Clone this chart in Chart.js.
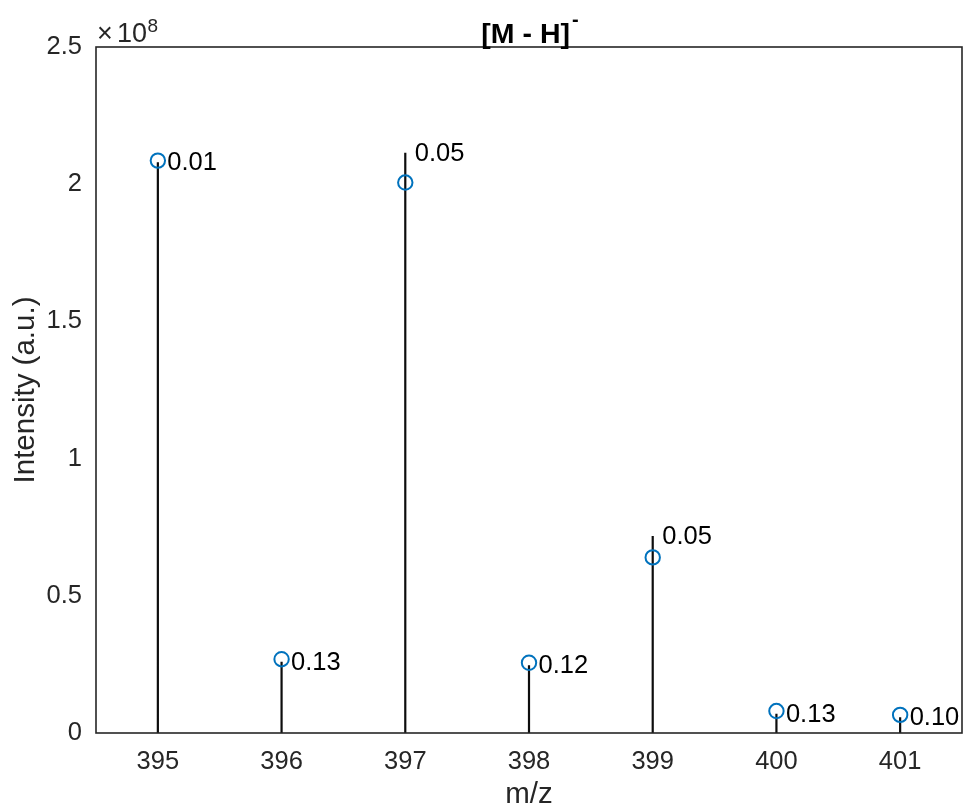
<!DOCTYPE html>
<html>
<head>
<meta charset="utf-8">
<script src="https://cdn.jsdelivr.net/npm/chart.js@4.4.1/dist/chart.umd.min.js"></script>
<style>
  html, body { margin: 0; padding: 0; background: #fff; }
  canvas { display: block; }
</style>
</head>
<body>
<canvas id="spec" width="963" height="807"></canvas>
<script>
// Isotope peaks of the deprotonated ion
const mz = [395, 396, 397, 398, 399, 400, 401];
// measured intensities (stems)
const measured = [2.08e8, 0.26e8, 2.115e8, 0.247e8, 0.718e8, 0.070e8, 0.057e8];
// predicted isotope pattern (open circles)
const predicted = [2.086e8, 0.269e8, 2.006e8, 0.256e8, 0.640e8, 0.080e8, 0.066e8];
// per-peak annotation text
const peakLabels = ['0.01', '0.13', '0.05', '0.12', '0.05', '0.13', '0.10'];
// y tick values (in counts) and the axis range
const yTickValues = [0, 0.5e8, 1e8, 1.5e8, 2e8, 2.5e8];
const xRange = [394.5, 401.5];
const yRange = [0, 2.5e8];

const FONT = '"Liberation Sans", Arial, Helvetica, sans-serif';
const AXIS_COLOR = '#262626';

// stems: one vertical segment per peak, separated by gaps
const stemPoints = mz.flatMap((m, i) => [
  { x: m, y: 0 },
  { x: m, y: measured[i] },
  { x: m, y: null }
]);
const circlePoints = mz.map((m, i) => ({ x: m, y: predicted[i] }));

const boxPlugin = {
  id: 'box',
  afterDatasetsDraw(chart) {
    const { ctx, chartArea: a } = chart;
    ctx.save();
    ctx.strokeStyle = AXIS_COLOR;
    ctx.lineWidth = 1.6;
    ctx.strokeRect(a.left, a.top, a.right - a.left, a.bottom - a.top);
    ctx.restore();
  }
};

const peakLabelPlugin = {
  id: 'peakLabels',
  afterDatasetsDraw(chart) {
    const { ctx, scales: { x, y } } = chart;
    ctx.save();
    ctx.fillStyle = '#000';
    ctx.font = '25.5px ' + FONT;
    ctx.textAlign = 'left';
    ctx.textBaseline = 'middle';
    mz.forEach((m, i) => {
      ctx.fillText(peakLabels[i], x.getPixelForValue(m) + 9.5, y.getPixelForValue(measured[i]) + 1);
    });
    ctx.restore();
  }
};

const headerPlugin = {
  id: 'header',
  afterDraw(chart) {
    const { ctx, chartArea: a } = chart;
    ctx.save();
    // title with superscript charge
    const main = '[M - H]';
    ctx.font = 'bold 28.5px ' + FONT;
    const w = ctx.measureText(main).width;
    ctx.font = 'bold 20px ' + FONT;
    const wSup = ctx.measureText('-').width;
    const cx = (a.left + a.right) / 2;
    const x0 = cx - (w + wSup) / 2;
    ctx.fillStyle = '#000';
    ctx.textBaseline = 'alphabetic';
    ctx.textAlign = 'left';
    ctx.font = 'bold 28.5px ' + FONT;
    ctx.fillText(main, x0, 43);
    ctx.font = 'bold 20px ' + FONT;
    ctx.fillText('-', x0 + w + 2, 26);

    // exponent of the y axis
    ctx.fillStyle = AXIS_COLOR;
    ctx.font = '27px ' + FONT;
    ctx.fillText('\u00d7', a.left + 1, 42);
    ctx.fillText('10', a.left + 21, 42);
    const w10 = ctx.measureText('10').width;
    ctx.font = '19px ' + FONT;
    ctx.fillText('8', a.left + 21 + w10 + 0.5, 32);
    ctx.restore();
  }
};

new Chart(document.getElementById('spec'), {
  type: 'scatter',
  data: {
    datasets: [
      {
        label: 'predicted',
        data: circlePoints,
        showLine: false,
        pointStyle: 'circle',
        pointRadius: 7.2,
        pointHoverRadius: 7.2,
        pointBorderWidth: 2,
        borderColor: '#0072BD',
        backgroundColor: 'rgba(0,0,0,0)',
        clip: false
      },
      {
        label: 'measured',
        type: 'line',
        data: stemPoints,
        borderColor: '#0d0d0d',
        borderWidth: 2.2,
        pointRadius: 0,
        pointHoverRadius: 0,
        spanGaps: false,
        fill: false,
        tension: 0
      }
    ]
  },
  options: {
    responsive: false,
    animation: false,
    devicePixelRatio: 1,
    events: [],
    layout: { autoPadding: false, padding: { top: 47, right: 1, left: 0, bottom: 0 } },
    plugins: {
      legend: { display: false },
      tooltip: { enabled: false },
      title: { display: false }
    },
    scales: {
      x: {
        type: 'linear',
        min: xRange[0],
        max: xRange[1],
        grid: { display: false, drawTicks: false },
        border: { display: false },
        afterBuildTicks(scale) { scale.ticks = mz.map(v => ({ value: v })); },
        afterFit(scale) {
          scale.height = 74;
          scale.paddingLeft = 0;
          scale.paddingRight = 0;
        },
        ticks: {
          autoSkip: false,
          maxRotation: 0,
          padding: 14,
          color: AXIS_COLOR,
          font: { family: FONT, size: 25.5 },
          callback: v => String(v)
        },
        title: {
          display: true,
          text: 'm/z',
          color: AXIS_COLOR,
          font: { family: FONT, size: 29.5, lineHeight: 0.8 },
          padding: { top: 0, bottom: 0 }
        }
      },
      y: {
        type: 'linear',
        min: yRange[0],
        max: yRange[1],
        grid: { display: false, drawTicks: false },
        border: { display: false },
        afterBuildTicks(scale) { scale.ticks = yTickValues.map(v => ({ value: v })); },
        afterFit(scale) {
          scale.width = 96;
          scale.paddingTop = 0;
          scale.paddingBottom = 0;
        },
        ticks: {
          padding: 14,
          color: AXIS_COLOR,
          font: { family: FONT, size: 25.5 },
          callback: v => String(+(v / 1e8).toFixed(1))
        },
        title: {
          display: true,
          text: 'Intensity (a.u.)',
          color: AXIS_COLOR,
          font: { family: FONT, size: 29.5, lineHeight: 0.85 },
          padding: { top: 13, bottom: 0 }
        }
      }
    }
  },
  plugins: [boxPlugin, peakLabelPlugin, headerPlugin]
});
</script>
</body>
</html>
